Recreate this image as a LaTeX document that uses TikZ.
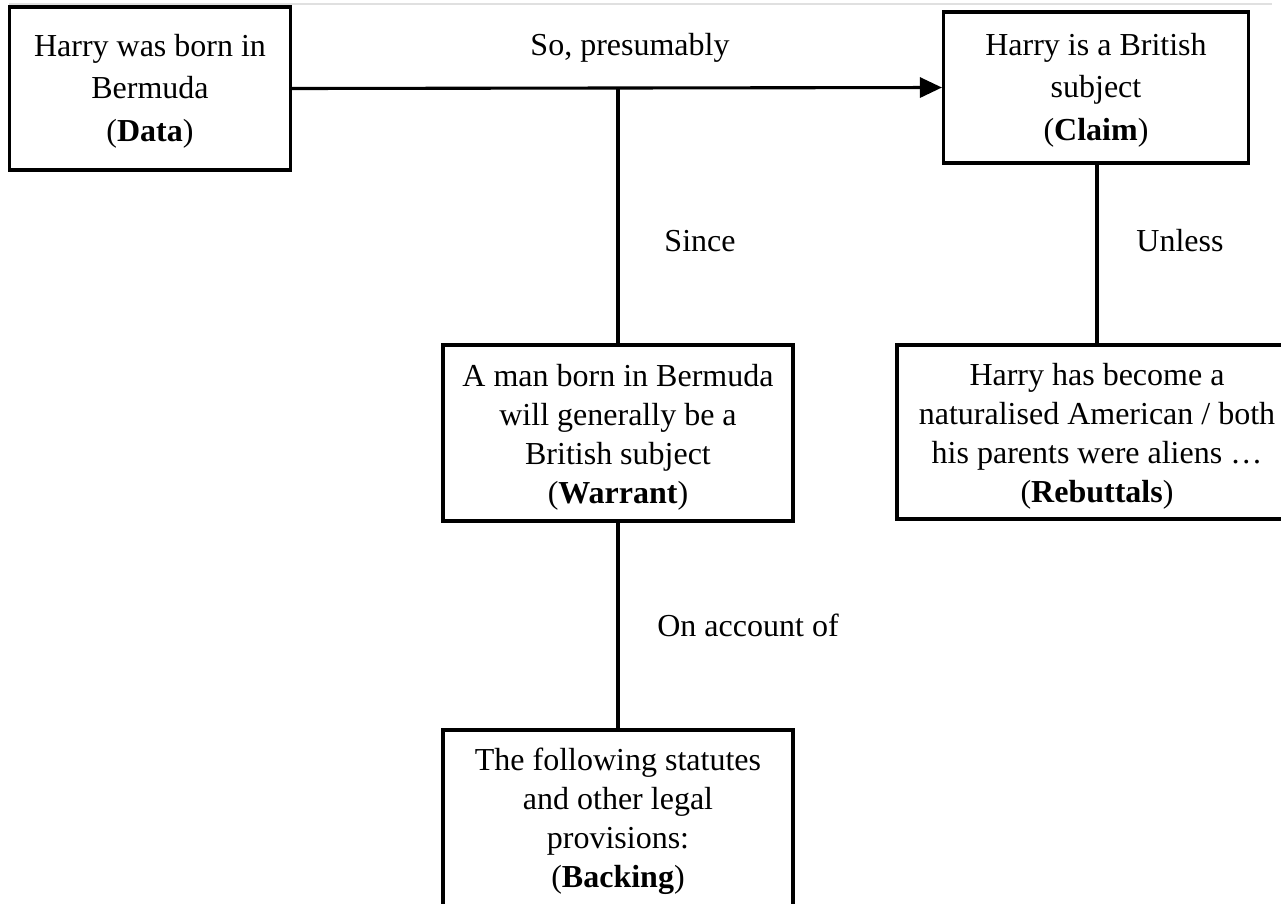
\documentclass[tikz,border=0pt]{standalone}
\usepackage{fontspec}
\setmainfont{Liberation Serif}
\usetikzlibrary{arrows.meta}
\newcommand\topstrut{\rule{0pt}{27pt}}
\newcommand\tallstrut{\rule{0pt}{30pt}}
\begin{document}
\begin{tikzpicture}[x=1pt,y=-1pt,
  box/.style={draw=black,line width=3.1pt,align=center,inner sep=0pt,
    font=\fontsize{32}{39}\selectfont},
  widebox/.style={box,font=\fontsize{32}{42.5}\selectfont},
  lbl/.style={font=\fontsize{32}{39}\selectfont,inner sep=0pt,anchor=base},
  conn/.style={line width=3.1pt},
]
\useasboundingbox (0,0) rectangle (1281,903);
\fill[white] (0,0) rectangle (1281,903);
\draw[black!12,line width=1.2pt] (9,4) -- (1272,4);
\node[widebox,minimum width=281pt,minimum height=163pt] (data) at (150,88.5)
  {\topstrut Harry was born in\\Bermuda\\(\textbf{Data})};
\node[widebox,minimum width=305pt,minimum height=151pt] (claim) at (1096,87.5)
  {\topstrut Harry is a British\\subject\\(\textbf{Claim})};
\node[box,minimum width=350pt,minimum height=176pt] (warrant) at (618,433)
  {\tallstrut A man born in Bermuda\\will generally be a\\British subject\\(\textbf{Warrant})};
\node[box,minimum width=400pt,minimum height=174pt] (rebut) at (1097,432)
  {\tallstrut Harry has become a\\naturalised American / both\\his parents were aliens \dots\\(\textbf{Rebuttals})};
\node[box,minimum width=350pt,minimum height=182pt] (backing) at (618,821)
  {The following statutes\\and other legal\\provisions:\\(\textbf{Backing})};
\draw[conn,-{Triangle[length=22pt,width=20pt]}] (data.east) -- (claim.west);
\coordinate (j) at (warrant.north |- data.east);
\draw[conn] (j) -- (warrant.north);
\draw[conn] (claim.south -| rebut.north) -- (rebut.north);
\draw[conn] (warrant.south) -- (backing.north);
\node[lbl] (so) at (630,55) {So, presumably};
\node[lbl] (since) at (700,251) {Since};
\node[lbl] (unless) at (1180,251) {Unless};
\node[lbl] (acc) at (748,636) {On account of};
\end{tikzpicture}
\end{document}
